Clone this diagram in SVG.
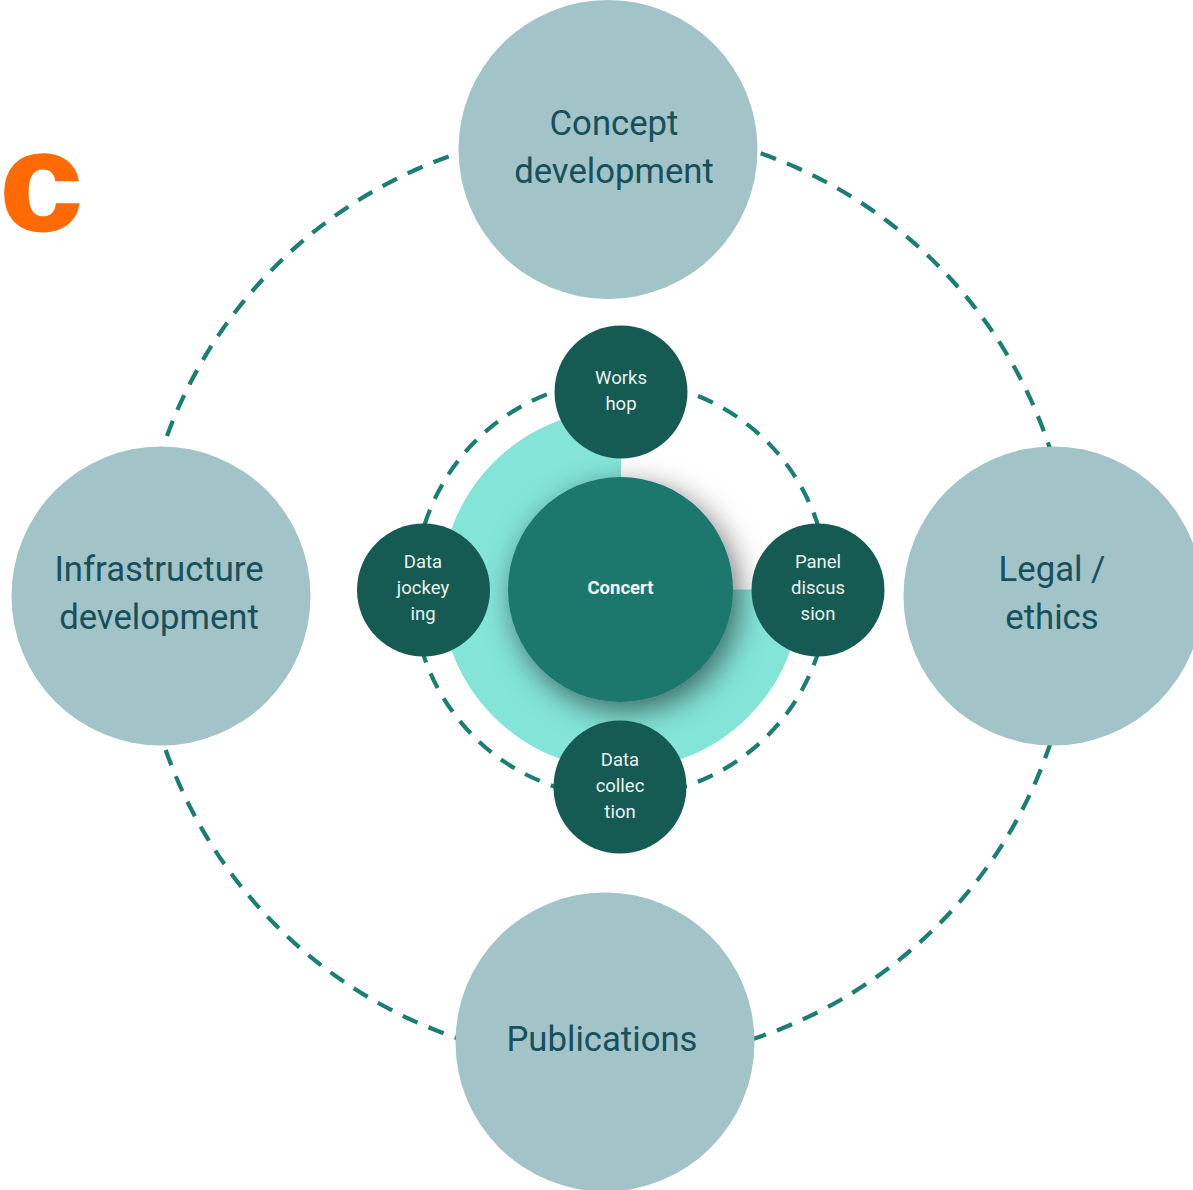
<svg xmlns="http://www.w3.org/2000/svg" width="1193" height="1190" viewBox="0 0 1193 1190">
<style>
.big{fill:#a2c3c8}
.small{fill:#165a54}
.dash{fill:none;stroke:#1a7f70;stroke-width:4.200;stroke-dasharray:16.300 11.800}
.bt{font-family:Roboto,"Liberation Sans",sans-serif;font-size:34.700px;fill:#17505a;text-anchor:middle}
.st{font-family:Roboto,"Liberation Sans",sans-serif;font-size:18.500px;fill:#e9f3f2;text-anchor:middle}
.ct{font-family:Roboto,"Liberation Sans",sans-serif;font-size:18.500px;font-weight:700;fill:#f4f9f8;text-anchor:middle}
</style>
<defs>
<filter id="sh" x="-40%" y="-40%" width="190%" height="190%"><feDropShadow dx="6" dy="9" stdDeviation="15" flood-color="#000" flood-opacity="0.55"/></filter>
</defs>
<text transform="translate(0 229.500) scale(1.06 1)" font-family="'Liberation Sans',sans-serif" font-weight="700" font-size="139" fill="#ff6a05" stroke="#ff6a05" stroke-width="3">c</text>
<g id="connectors">
<path class="dash" d="M760.700 153.300A467.500 467.500 0 0 1 1052 455"/>
<path class="dash" d="M1050.500 743A467.500 467.500 0 0 1 750 1040"/>
<path class="dash" d="M165.700 750A467.500 467.500 0 0 0 460 1039"/>
<path class="dash" d="M167 436A467.500 467.500 0 0 1 462 152"/>
<path class="dash" d="M698 396A207.500 207.500 0 0 1 820 532"/>
<path class="dash" d="M819 650A207.500 207.500 0 0 1 680 788"/>
<path class="dash" d="M421 647A207.500 207.500 0 0 0 556 787"/>
<path class="dash" d="M424.500 525A207.500 207.500 0 0 1 556 391"/>
</g>
<g id="ring"><path d="M621 409.500A180 180 0 1 0 801 589.500H621Z" fill="#84e4d8"/></g>
<g id="concert"><circle cx="620.500" cy="589.500" r="112.500" fill="#1a776c" filter="url(#sh)"/><text class="ct" x="620.500" y="594">Concert</text></g>
<g id="workshop"><circle cx="621" cy="392" r="66.500" class="small"/><text class="st"><tspan x="621" y="384">Works</tspan><tspan x="621" y="410">hop</tspan></text></g>
<g id="data-jockeying"><circle cx="423.500" cy="590" r="66.500" class="small"/><text class="st"><tspan x="423" y="568">Data</tspan><tspan x="423" y="594">jockey</tspan><tspan x="423" y="620">ing</tspan></text></g>
<g id="panel"><circle cx="818" cy="590" r="66.500" class="small"/><text class="st"><tspan x="818" y="568">Panel</tspan><tspan x="818" y="594">discus</tspan><tspan x="818" y="620">sion</tspan></text></g>
<g id="data-collection"><circle cx="620" cy="787" r="66.500" class="small"/><text class="st"><tspan x="620" y="766">Data</tspan><tspan x="620" y="792">collec</tspan><tspan x="620" y="818">tion</tspan></text></g>
<g id="concept"><circle cx="608" cy="149.500" r="149.500" class="big"/><text class="bt"><tspan x="614" y="135.400">Concept</tspan><tspan x="614" y="183.400">development</tspan></text></g>
<g id="infrastructure"><circle cx="161" cy="596" r="149.500" class="big"/><text class="bt"><tspan x="159" y="581.400">Infrastructure</tspan><tspan x="159" y="629.400">development</tspan></text></g>
<g id="legal"><circle cx="1053" cy="596" r="149.500" class="big"/><text class="bt"><tspan x="1052" y="581.400">Legal /</tspan><tspan x="1052" y="629.400">ethics</tspan></text></g>
<g id="publications"><circle cx="605" cy="1042" r="149.500" class="big"/><text class="bt" x="602" y="1051.400">Publications</text></g>
</svg>
